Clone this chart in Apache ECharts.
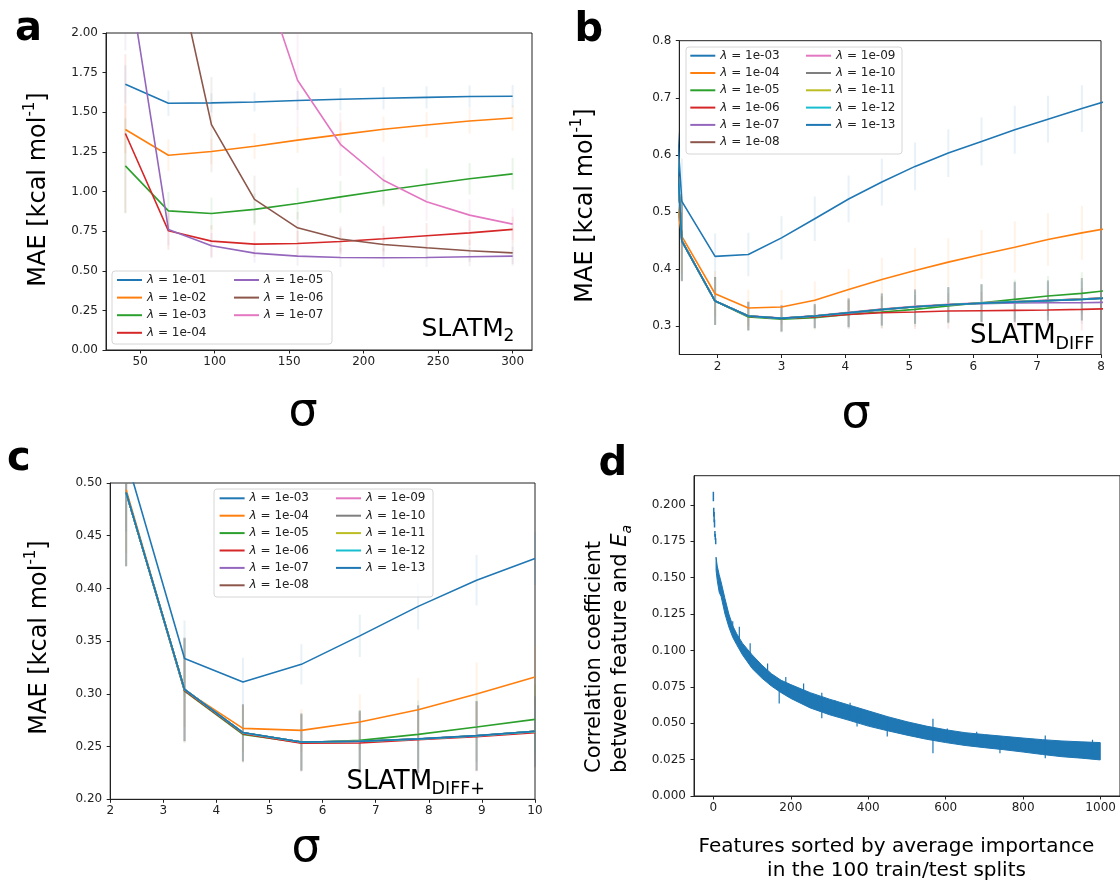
<!DOCTYPE html>
<html>
<head>
<meta charset="utf-8">
<script src="https://cdn.jsdelivr.net/npm/echarts@6/dist/echarts.min.js"></script>
<style>html,body{margin:0;padding:0;background:#fff;}#c{width:1120px;height:880px;}</style>
</head>
<body>
<div id="c"></div>
<script>
// ---------------- DATA ----------------
// Panel a: SLATM_2
const sigmaA = [40, 68.9, 97.8, 126.7, 155.6, 184.4, 213.3, 242.2, 271.1, 300];
const maeA_1e01 = [1.676, 1.557, 1.559, 1.565, 1.574, 1.582, 1.588, 1.594, 1.599, 1.601];
const maeA_1e02 = [1.391, 1.229, 1.252, 1.286, 1.324, 1.359, 1.393, 1.420, 1.445, 1.464];
const maeA_1e03 = [1.162, 0.878, 0.861, 0.887, 0.924, 0.966, 1.006, 1.044, 1.080, 1.111];
const maeA_1e04 = [1.366, 0.752, 0.687, 0.668, 0.672, 0.685, 0.702, 0.721, 0.739, 0.761];
const maeA_1e05 = [2.49, 0.761, 0.658, 0.611, 0.592, 0.584, 0.582, 0.584, 0.588, 0.592];
const maeA_1e06 = [4.5, 2.65, 1.422, 0.950, 0.771, 0.700, 0.666, 0.645, 0.626, 0.613];
const maeA_1e07 = [7.0, 5.0, 3.5, 2.51, 1.702, 1.298, 1.071, 0.935, 0.851, 0.794];
const errA_1e01 = [0.12, 0.08, 0.06, 0.06, 0.06, 0.07, 0.07, 0.07, 0.07, 0.07];
const errA_1e02 = [0.15, 0.10, 0.08, 0.08, 0.08, 0.08, 0.08, 0.08, 0.08, 0.08];
const errA_1e03 = [0.30, 0.12, 0.10, 0.10, 0.10, 0.10, 0.10, 0.10, 0.10, 0.10];
const errA_1e04 = [0.50, 0.12, 0.10, 0.08, 0.08, 0.08, 0.08, 0.08, 0.08, 0.08];
const errA_1e05 = [0.60, 0.10, 0.08, 0.06, 0.06, 0.06, 0.06, 0.06, 0.06, 0.06];
const errA_1e06 = [0.80, 0.50, 0.30, 0.15, 0.10, 0.08, 0.07, 0.07, 0.07, 0.07];
const errA_1e07 = [1.00, 0.80, 0.60, 0.40, 0.30, 0.20, 0.15, 0.12, 0.10, 0.10];

// Panel b: SLATM_DIFF
const sigmaB = [0.92, 1.44, 1.96, 2.48, 3.0, 3.52, 4.05, 4.57, 5.09, 5.61, 6.13, 6.65, 7.17, 7.70, 8.22];
const maeB_1e03 = [1.40, 0.5185, 0.422, 0.4253, 0.4544, 0.488, 0.5226, 0.5523, 0.5797, 0.603, 0.6234, 0.6438, 0.6625, 0.681, 0.699];
const maeB_1e04 = [0.84, 0.457, 0.3565, 0.3315, 0.3332, 0.345, 0.364, 0.3816, 0.3973, 0.4119, 0.4253, 0.4381, 0.4515, 0.4632, 0.4735];
const maeB_1e05 = [1.50, 0.450, 0.3437, 0.3157, 0.3117, 0.3146, 0.3204, 0.3245, 0.3291, 0.335, 0.3408, 0.3466, 0.3524, 0.3571, 0.3635];
const maeB_1e06 = [1.50, 0.449, 0.3437, 0.3170, 0.3134, 0.3157, 0.3200, 0.3233, 0.3245, 0.3262, 0.3268, 0.3274, 0.3280, 0.3291, 0.3305];
const maeB_1e07 = [1.50, 0.449, 0.3437, 0.3175, 0.3134, 0.3175, 0.3225, 0.3280, 0.3338, 0.3373, 0.3390, 0.3402, 0.3408, 0.3408, 0.3418];
const maeB_1e08 = [1.50, 0.4486, 0.3437, 0.3175, 0.3134, 0.3175, 0.3233, 0.3291, 0.3338, 0.3373, 0.3402, 0.3425, 0.3449, 0.3472, 0.3502];
const maeB_1e09 = [1.50, 0.4490, 0.3440, 0.3178, 0.3138, 0.3180, 0.3240, 0.3298, 0.3345, 0.3380, 0.3408, 0.3430, 0.3452, 0.3474, 0.3504];
const maeB_1e10 = [1.50, 0.4486, 0.3437, 0.3175, 0.3134, 0.3175, 0.3233, 0.3291, 0.3338, 0.3373, 0.3402, 0.3425, 0.3447, 0.3470, 0.3500];
const maeB_1e11 = [1.50, 0.4486, 0.3437, 0.3175, 0.3134, 0.3175, 0.3233, 0.3290, 0.3337, 0.3372, 0.3400, 0.3423, 0.3445, 0.3468, 0.3498];
const maeB_1e12 = [1.50, 0.4486, 0.3437, 0.3175, 0.3134, 0.3175, 0.3233, 0.3290, 0.3337, 0.3372, 0.3400, 0.3423, 0.3445, 0.3467, 0.3497];
const maeB_1e13 = [1.50, 0.4486, 0.3437, 0.3175, 0.3134, 0.3175, 0.3233, 0.3290, 0.3336, 0.3371, 0.3399, 0.3421, 0.3443, 0.3465, 0.3495];
const errB_1e03 = [0.08, 0.075, 0.040, 0.038, 0.038, 0.039, 0.041, 0.041, 0.042, 0.042, 0.042, 0.042, 0.041, 0.041, 0.041];
const errB_1e04 = [0.07, 0.065, 0.040, 0.032, 0.030, 0.033, 0.036, 0.038, 0.040, 0.042, 0.043, 0.045, 0.046, 0.047, 0.047];
const errB_low = [0.10, 0.070, 0.042, 0.025, 0.023, 0.021, 0.025, 0.028, 0.030, 0.031, 0.033, 0.035, 0.035, 0.037, 0.038];

// Panel c: SLATM_DIFF+
const sigmaC = [2.3, 3.4, 4.5, 5.6, 6.7, 7.8, 8.9, 10.0];
const maeC_1e03 = [0.524, 0.3336, 0.3112, 0.328, 0.355, 0.383, 0.4078, 0.4283];
const maeC_1e04 = [0.4937, 0.3036, 0.2673, 0.2654, 0.2733, 0.285, 0.2998, 0.3159];
const maeC_1e05 = [0.491, 0.3027, 0.2616, 0.2537, 0.2559, 0.2616, 0.2685, 0.2758];
const maeC_1e06 = [0.491, 0.3030, 0.2622, 0.2531, 0.2534, 0.2565, 0.2594, 0.2632];
const maeC_1e07 = [0.491, 0.3042, 0.2630, 0.2541, 0.2548, 0.2570, 0.2601, 0.2641];
const maeC_1e08 = [0.491, 0.3042, 0.2632, 0.2543, 0.2550, 0.2572, 0.2603, 0.2644];
const maeC_1e09 = [0.491, 0.3042, 0.2632, 0.2543, 0.2550, 0.2572, 0.2603, 0.2644];
const maeC_1e10 = [0.491, 0.3042, 0.2632, 0.2543, 0.2550, 0.2572, 0.2603, 0.2644];
const maeC_1e11 = [0.491, 0.3042, 0.2632, 0.2543, 0.2550, 0.2572, 0.2603, 0.2644];
const maeC_1e12 = [0.491, 0.3042, 0.2632, 0.2543, 0.2550, 0.2572, 0.2603, 0.2644];
const maeC_1e13 = [0.491, 0.3042, 0.2633, 0.2544, 0.2551, 0.2573, 0.2604, 0.2645];
const errC_1e03 = [0.07, 0.036, 0.023, 0.019, 0.020, 0.022, 0.024, 0.025];
const errC_1e04 = [0.06, 0.035, 0.022, 0.020, 0.026, 0.030, 0.030, 0.030];
const errC_low = [0.07, 0.049, 0.027, 0.027, 0.029, 0.032, 0.033, 0.033];

// Panel d: correlation coefficient band (upper / lower edge of the error-bar band)
const featD = [7, 10, 15, 20, 30, 40, 50, 60, 75, 100, 125, 150, 175, 200, 250, 300, 350, 400, 450, 500, 550, 600, 650, 700, 750, 800, 850, 900, 950, 999];
const upperD = [0.164, 0.158, 0.152, 0.147, 0.1356, 0.125, 0.117, 0.1116, 0.105, 0.097, 0.090, 0.084, 0.0795, 0.0765, 0.0710, 0.0665, 0.0625, 0.0585, 0.0545, 0.0510, 0.0480, 0.0455, 0.0435, 0.0422, 0.0410, 0.0398, 0.0387, 0.0378, 0.0372, 0.0367];
const lowerD = [0.155, 0.148, 0.140, 0.137, 0.125, 0.116, 0.109, 0.104, 0.097, 0.0876, 0.081, 0.0755, 0.0710, 0.0670, 0.0605, 0.0558, 0.0520, 0.0480, 0.0448, 0.0418, 0.0390, 0.0367, 0.0347, 0.0332, 0.0318, 0.0302, 0.0285, 0.0270, 0.0260, 0.0248];
const earlyF = [0, 1, 2, 3, 4, 5, 6];
const earlyLo = [0.2025, 0.192, 0.188, 0.1845, 0.178, 0.176, 0.173];
const earlyHi = [0.209, 0.198, 0.195, 0.190, 0.182, 0.180, 0.177];
const spikeF = [50, 67, 95, 140, 170, 187, 233, 280, 314, 353, 371, 382, 449, 527, 567, 604, 680, 740, 857, 979];
const spikeLo = [0.112, 0.105, 0.092, 0.080, 0.0636, 0.072, 0.064, 0.0534, 0.058, 0.055, 0.0477, 0.052, 0.0408, 0.041, 0.0293, 0.038, 0.035, 0.0294, 0.026, 0.027];
const spikeHi = [0.120, 0.1162, 0.105, 0.091, 0.075, 0.0818, 0.0772, 0.0709, 0.0658, 0.064, 0.056, 0.059, 0.0546, 0.0493, 0.053, 0.0464, 0.0441, 0.038, 0.0415, 0.0386];

// Tick values
const ticksXA = [50, 100, 150, 200, 250, 300];
const ticksXB = [2, 3, 4, 5, 6, 7, 8];
const ticksYB = [0.3, 0.4, 0.5, 0.6, 0.7, 0.8];
const ticksXD = [0, 200, 400, 600, 800, 1000];
const ticksYD = [0, 0.025, 0.05, 0.075, 0.1, 0.125, 0.15, 0.175, 0.2];

// ---------------- CHART ----------------
const FONT = 'DejaVu Sans';
const C = ['#1f77b4','#ff7f0e','#2ca02c','#d62728','#9467bd','#8c564b','#e377c2','#7f7f7f','#bcbd22','#17becf','#1f77b4'];
const AX = '#222';

function lineS(panel, gi, lam, xs, ys, color) {
  return {
    type: 'line', name: panel + ':' + lam, xAxisIndex: gi, yAxisIndex: gi,
    data: xs.map((x, i) => [x, ys[i]]), showSymbol: false, symbol: 'none',
    lineStyle: { width: 1.6, color: color }, itemStyle: { color: color },
    clip: true, z: 3, animation: false
  };
}
function errS(gi, xs, ys, es, color, op, w) {
  return {
    type: 'custom', xAxisIndex: gi, yAxisIndex: gi, clip: true, z: 2, animation: false,
    data: xs.map((x, i) => [x, ys[i] - es[i], ys[i] + es[i]]),
    encode: { x: 0, y: [1, 2] },
    renderItem: function (params, api) {
      const p1 = api.coord([api.value(0), api.value(1)]);
      const p2 = api.coord([api.value(0), api.value(2)]);
      return { type: 'line', shape: { x1: p1[0], y1: p1[1], x2: p2[0], y2: p2[1] },
        style: { stroke: color, lineWidth: w || 2, opacity: op } };
    }
  };
}
function xAx(gi, min, max, custom, interval, fmt) {
  const o = {
    type: 'value', gridIndex: gi, min: min, max: max, splitLine: { show: false },
    axisLine: { show: true, onZero: false, lineStyle: { color: AX, width: 1 } },
    axisTick: { show: true, inside: false, length: 3.5, lineStyle: { color: AX, width: 1 } },
    axisLabel: { fontFamily: FONT, fontSize: 12, color: AX, margin: 6, formatter: fmt }
  };
  if (custom) { o.axisTick.customValues = custom; o.axisLabel.customValues = custom; }
  if (interval) o.interval = interval;
  return o;
}
function yAx(gi, min, max, custom, interval, fmt) {
  const o = xAx(gi, min, max, custom, interval, fmt);
  o.axisLabel.margin = 8;
  return o;
}
function legendCol(names, left, top, gap) {
  return {
    show: true, orient: 'vertical', left: left, top: top, padding: 0, itemGap: gap,
    itemWidth: 25, itemHeight: 12, data: names, selectedMode: false, z: 10,
    itemStyle: { opacity: 0 },
    formatter: n => '{i|λ} = ' + n.split(':')[1],
    textStyle: { fontFamily: FONT, fontSize: 12, color: AX, lineHeight: 12,
      rich: { i: { fontStyle: 'italic', fontFamily: FONT, fontSize: 12, lineHeight: 12, color: AX } } }
  };
}

const series = [];
// panel a
const lamA = ['1e-01','1e-02','1e-03','1e-04','1e-05','1e-06','1e-07'];
const valsA = [maeA_1e01, maeA_1e02, maeA_1e03, maeA_1e04, maeA_1e05, maeA_1e06, maeA_1e07];
const errsA = [errA_1e01, errA_1e02, errA_1e03, errA_1e04, errA_1e05, errA_1e06, errA_1e07];
lamA.forEach((l, k) => {
  series.push(errS(0, sigmaA, valsA[k], errsA[k], C[k], 0.1));
  series.push(lineS('a', 0, l, sigmaA, valsA[k], C[k]));
});
// panel b
const lamBC = ['1e-03','1e-04','1e-05','1e-06','1e-07','1e-08','1e-09','1e-10','1e-11','1e-12','1e-13'];
const valsB = [maeB_1e03, maeB_1e04, maeB_1e05, maeB_1e06, maeB_1e07, maeB_1e08, maeB_1e09, maeB_1e10, maeB_1e11, maeB_1e12, maeB_1e13];
lamBC.forEach((l, k) => {
  const e = k === 0 ? errB_1e03 : (k === 1 ? errB_1e04 : errB_low);
  series.push(errS(1, sigmaB, valsB[k], e, C[k], 0.1));
  series.push(lineS('b', 1, l, sigmaB, valsB[k], C[k]));
});
// panel c
const valsC = [maeC_1e03, maeC_1e04, maeC_1e05, maeC_1e06, maeC_1e07, maeC_1e08, maeC_1e09, maeC_1e10, maeC_1e11, maeC_1e12, maeC_1e13];
lamBC.forEach((l, k) => {
  const e = k === 0 ? errC_1e03 : (k === 1 ? errC_1e04 : errC_low);
  series.push(errS(2, sigmaC, valsC[k], e, C[k], 0.1));
  series.push(lineS('c', 2, l, sigmaC, valsC[k], C[k]));
});
// panel d
series.push({
  type: 'custom', xAxisIndex: 3, yAxisIndex: 3, clip: true, z: 2, animation: false,
  data: featD.map((f, i) => [f, lowerD[i], upperD[i]]), encode: { x: 0, y: [1, 2] },
  renderItem: function (params, api) {
    if (params.dataIndex !== 0) return null;
    const pts = [];
    for (let i = 0; i < featD.length; i++) pts.push(api.coord([featD[i], upperD[i]]));
    for (let i = featD.length - 1; i >= 0; i--) pts.push(api.coord([featD[i], lowerD[i]]));
    return { type: 'polygon', shape: { points: pts }, style: { fill: C[0], stroke: C[0], lineWidth: 1 } };
  }
});
series.push(errS(3, earlyF, earlyLo.map((v, i) => (v + earlyHi[i]) / 2), earlyLo.map((v, i) => (earlyHi[i] - v) / 2), C[0], 1, 1.5));
series.push(errS(3, spikeF, spikeLo.map((v, i) => (v + spikeHi[i]) / 2), spikeLo.map((v, i) => (spikeHi[i] - v) / 2), C[0], 1, 1.2));

const gridStyle = { show: true, borderColor: AX, borderWidth: 1, backgroundColor: 'transparent' };

function txt(x, y, text, size, extra) {
  return Object.assign({ type: 'text', x: x, y: y, z: 20,
    style: Object.assign({ text: text, fontFamily: FONT, fontSize: size, fill: '#000', align: 'left', verticalAlign: 'middle' }, extra || {}) });
}
const yLabRich = {
  m: { fontFamily: FONT, fontSize: 24, lineHeight: 32, fill: '#000', verticalAlign: 'middle' },
  s: { fontFamily: FONT, fontSize: 15, lineHeight: 15, fill: '#000', verticalAlign: 'top' }
};
function yLab(x, y) {
  return { type: 'text', x: x, y: y, rotation: Math.PI / 2, z: 20,
    style: { text: '{m|MAE [kcal mol}{s|-1}{m|]}', rich: yLabRich, align: 'center', verticalAlign: 'middle', fill: '#000' } };
}
function frame(x, y, w, h) {
  return { type: 'rect', z: 8, shape: { x: x, y: y, width: w, height: h, r: 3 },
    style: { fill: 'rgba(255,255,255,0.8)', stroke: '#d6d6d6', lineWidth: 1 } };
}

const graphics = [
  frame(112, 271, 220, 73), frame(686, 47, 216, 107), frame(214, 489, 219, 108),
  // panel letters
  txt(15, 30, 'a', 40, { fontWeight: 'bold' }),
  txt(574.5, 31, 'b', 40, { fontWeight: 'bold' }),
  txt(7, 460, 'c', 40, { fontWeight: 'bold' }),
  txt(598.5, 465, 'd', 40, { fontWeight: 'bold' }),
  // y labels
  yLab(38.5, 189.5), yLab(586, 205.5), yLab(40, 637.5),
  // sigma labels
  txt(303, 413, 'σ', 46, { align: 'center' }),
  txt(856, 415, 'σ', 46, { align: 'center' }),
  txt(306, 849, 'σ', 46, { align: 'center' }),
  // SLATM annotations
  txt(421.5, 329.5, 'SLATM', 25), txt(503.5, 336.6, '2', 17),
  txt(970, 336.2, 'SLATM', 26), txt(1055.5, 344, 'DIFF', 17.5),
  txt(346.5, 782.2, 'SLATM', 26), txt(431.5, 789.7, 'DIFF+', 17.5),
  // panel d labels
  { type: 'text', x: 608, y: 773, rotation: Math.PI / 2, z: 20,
    style: { text: '{n|Correlation coefficient}\n{n|between feature and }{e|E}{s|a}', align: 'left', verticalAlign: 'middle', fill: '#000',
      rich: { n: { fontFamily: FONT, fontSize: 21, lineHeight: 26, fill: '#000', verticalAlign: 'middle' },
              e: { fontFamily: FONT, fontSize: 21, fontStyle: 'italic', lineHeight: 26, fill: '#000', verticalAlign: 'middle' },
              s: { fontFamily: FONT, fontSize: 14, fontStyle: 'italic', lineHeight: 14, fill: '#000', verticalAlign: 'bottom' } } } },
  { type: 'text', x: 896.5, y: 858.7, z: 20,
    style: { text: 'Features sorted by average importance\nin the 100 train/test splits', fontFamily: FONT, fontSize: 20, lineHeight: 24, fill: '#000', align: 'center', verticalAlign: 'middle' } }
];

const option = {
  animation: false,
  backgroundColor: '#fff',
  grid: [
    Object.assign({ left: 106, top: 33, width: 426, height: 317 }, gridStyle),
    Object.assign({ left: 679.3, top: 40.7, width: 421.7, height: 313.8 }, gridStyle),
    Object.assign({ left: 110.2, top: 483, width: 424.8, height: 316.3 }, gridStyle),
    Object.assign({ left: 694, top: 475.7, width: 430.6, height: 320.3 }, gridStyle)
  ],
  xAxis: [
    xAx(0, 27, 313, ticksXA, null, v => String(v)),
    xAx(1, 1.4, 8, ticksXB, null, v => String(v)),
    xAx(2, 2, 10, null, 1, v => String(v)),
    xAx(3, -50, 1050, ticksXD, null, v => String(v))
  ],
  yAxis: [
    yAx(0, 0, 2, null, 0.25, v => v.toFixed(2)),
    yAx(1, 0.25, 0.8, ticksYB, null, v => v.toFixed(1)),
    yAx(2, 0.2, 0.5, null, 0.05, v => v.toFixed(2)),
    yAx(3, 0, 0.22, ticksYD, null, v => v.toFixed(3))
  ],
  legend: [
    legendCol(['a:1e-01','a:1e-02','a:1e-03','a:1e-04'], 116, 274, 5.6),
    legendCol(['a:1e-05','a:1e-06','a:1e-07'], 233, 274, 5.6),
    legendCol(['b:1e-03','b:1e-04','b:1e-05','b:1e-06','b:1e-07','b:1e-08'], 689.3, 49.7, 5.3),
    legendCol(['b:1e-09','b:1e-10','b:1e-11','b:1e-12','b:1e-13'], 805, 49.7, 5.3),
    legendCol(['c:1e-03','c:1e-04','c:1e-05','c:1e-06','c:1e-07','c:1e-08'], 218.6, 492.3, 5.4),
    legendCol(['c:1e-09','c:1e-10','c:1e-11','c:1e-12','c:1e-13'], 335, 492.3, 5.4)
  ],
  graphic: { elements: graphics },
  series: series
};

const chart = echarts.init(document.getElementById('c'), null, { renderer: 'canvas' });
chart.setOption(option);
</script>
</body>
</html>
